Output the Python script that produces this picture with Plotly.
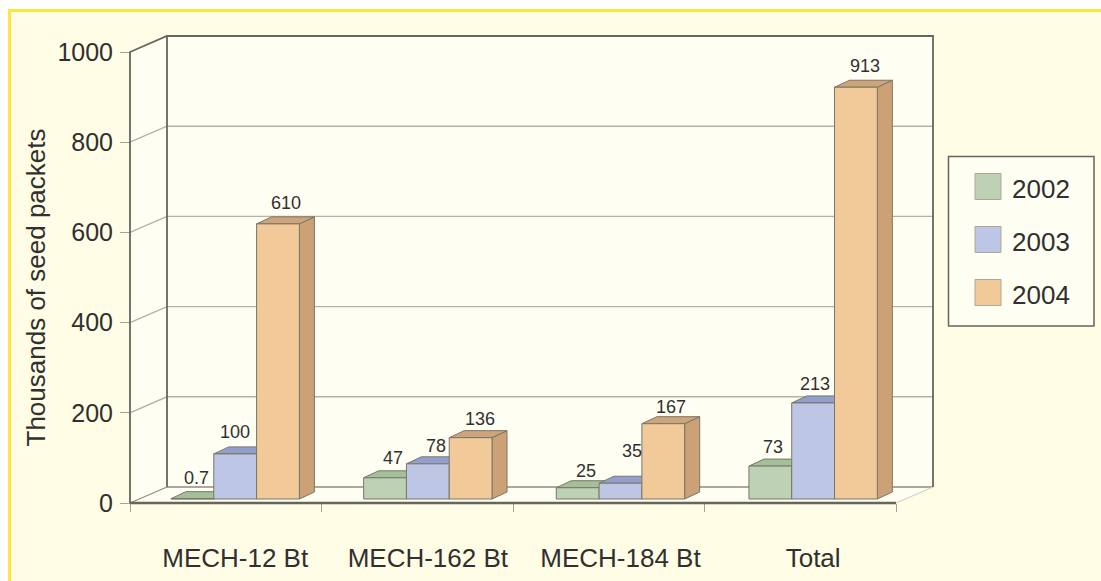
import plotly.graph_objects as go

# ---- data ----
categories = ["MECH-12 Bt", "MECH-162 Bt", "MECH-184 Bt", "Total"]
series_names = ["2002", "2003", "2004"]
values_2002 = [0.7, 47, 25, 73]
values_2003 = [100, 78, 35, 213]
values_2004 = [610, 136, 167, 913]
y_ticks = [0, 200, 400, 600, 800, 1000]
y_title = "Thousands of seed packets"

# ---- styling / layout constants ----
W, H = 1101, 581
X0_PX, PX_PER_X = 130.0, 191.5     # front x axis: 0 at 130px, one group per 191.5px
Y0_PX, PX_PER_Y = 503.0, 0.451     # front y axis: 0 at 503px
def X(p): return (p - X0_PX) / PX_PER_X
def Y(p): return (Y0_PX - p) / PX_PER_Y

WALL_DX, WALL_DY = X(167), Y(487)  # depth of the box
BAR_DX, BAR_DY = 15 / PX_PER_X, 7 / PX_PER_Y   # depth of a bar
BAR_BASE = 4 / PX_PER_Y            # bars stand slightly inside the floor
GROUP_START, GROUP_STEP, BAR_W = 0.214, 1.006, 0.2235
FONT = "Liberation Sans, Arial, sans-serif"
FRONT = ["#BDD2B5", "#BEC6E5", "#F2C998"]
TOPS = ["#A3C098", "#929FCE", "#CFA478"]
SIDES = ["#A3C098", "#929FCE", "#CDA176"]
EDGE = "#77776A"
DARK = "#66665A"
GRID = "#B5B2A2"
TEXT = "#303030"
BG = "#FFFDE6"
WALL = "#FFFEF3"
# label offsets in pixels from the front top centre of each bar
LABEL_DX = [[4, 8, 8, 3], [0, 8, 12, 2], [8, 9, 8, 9]]
LABEL_DY = [[21, 20, 17, 19], [22, 18, 32, 19], [21, 19, 17, 21]]

series = [values_2002, values_2003, values_2004]
fig = go.Figure()

def line_trace(xs, ys, color, width, z):
    fig.add_trace(go.Scatter(x=xs, y=ys, mode="lines", line=dict(color=color, width=width),
                             hoverinfo="skip", showlegend=False, zorder=z))

x_end = len(categories)
y_top = y_ticks[-1]

# box interior
fig.add_trace(go.Scatter(
    x=[0, WALL_DX, x_end + WALL_DX, x_end + WALL_DX, x_end, 0, 0],
    y=[y_top, y_top + WALL_DY, y_top + WALL_DY, WALL_DY, 0, 0, y_top],
    mode="lines", fill="toself", fillcolor=WALL, line=dict(width=0),
    hoverinfo="skip", showlegend=False, zorder=0))

# gridlines along side and back wall
gx, gy = [], []
for t in y_ticks[1:-1]:
    gx += [0, WALL_DX, x_end + WALL_DX, None]
    gy += [t, t + WALL_DY, t + WALL_DY, None]
line_trace(gx, gy, GRID, 1.4, 1)
# floor
line_trace([WALL_DX, x_end + WALL_DX], [WALL_DY, WALL_DY], "#8E8C7E", 1.6, 1)
line_trace([x_end, x_end + WALL_DX], [0, WALL_DY], "#D4D2C6", 1.2, 1)
line_trace([0, WALL_DX], [0, WALL_DY], "#8E8C7E", 1.2, 1)
# frame
line_trace([0, 0, WALL_DX, x_end + WALL_DX, x_end + WALL_DX],
           [0, y_top, y_top + WALL_DY, y_top + WALL_DY, WALL_DY], DARK, 1.8, 1)
line_trace([WALL_DX, WALL_DX], [WALL_DY, y_top + WALL_DY], DARK, 1.8, 1)
line_trace([0, x_end], [0, 0], DARK, 2.6, 1)

# bars: side and top faces, then fronts on top of them
for k, vals in enumerate(series):
    lefts = [GROUP_START + GROUP_STEP * i + BAR_W * k for i in range(len(vals))]
    sx, sy, tx, ty = [], [], [], []
    for l, v in zip(lefts, vals):
        r = l + BAR_W
        top = BAR_BASE + v
        sx += [r, r + BAR_DX, r + BAR_DX, r, r, None]
        sy += [BAR_BASE, BAR_BASE + BAR_DY, top + BAR_DY, top, BAR_BASE, None]
        tx += [l, l + BAR_DX, r + BAR_DX, r, l, None]
        ty += [top, top + BAR_DY, top + BAR_DY, top, top, None]
    for fx, fy, col in ((sx, sy, SIDES[k]), (tx, ty, TOPS[k])):
        fig.add_trace(go.Scatter(x=fx, y=fy, mode="lines", fill="toself", fillcolor=col,
                                 line=dict(color=EDGE, width=1), hoverinfo="skip",
                                 showlegend=False, zorder=2))
    fig.add_trace(go.Bar(x=[l + BAR_W / 2 for l in lefts], y=vals, base=BAR_BASE, width=BAR_W,
                         name=series_names[k], marker=dict(color=FRONT[k], line=dict(color=EDGE, width=1)),
                         showlegend=False, zorder=3))
    for i, (l, v) in enumerate(zip(lefts, vals)):
        fig.add_annotation(x=l + BAR_W / 2, y=BAR_BASE + v, text=str(v), showarrow=False,
                           xshift=LABEL_DX[k][i], yshift=LABEL_DY[k][i],
                           font=dict(family=FONT, size=18, color=TEXT))

# legend key
for k, name in enumerate(series_names):
    fig.add_trace(go.Scatter(x=[X(988)], y=[Y(186.5 + 53 * k)], mode="markers",
                             marker=dict(symbol="square", size=26, color=FRONT[k],
                                         line=dict(color="#A9A996", width=1)),
                             name=name, hoverinfo="skip", showlegend=False, zorder=4))
    fig.add_annotation(x=X(1010), y=Y(188.5 + 53 * k), text=name, showarrow=False, xanchor="left",
                       font=dict(family=FONT, size=26, color=TEXT))

fig.update_layout(
    width=W, height=H, margin=dict(l=0, r=0, t=0, b=0), autosize=False,
    paper_bgcolor="white", plot_bgcolor="rgba(0,0,0,0)", barmode="overlay", showlegend=False,
    font=dict(family=FONT, color=TEXT),
    xaxis=dict(domain=[0, 1], range=[X(0), X(W)], anchor="free", position=(H - Y0_PX) / H,
               showgrid=False, zeroline=False, showline=False,
               tickmode="array", tickvals=[GROUP_START + GROUP_STEP * i + 1.5 * BAR_W for i in range(len(categories))],
               ticktext=categories, ticks="outside", ticklen=32, tickcolor="rgba(0,0,0,0)",
               tickfont=dict(family=FONT, size=26, color=TEXT),
               minor=dict(tickmode="array", tickvals=list(range(len(categories) + 1)),
                          ticks="outside", ticklen=8, tickcolor="#A5A394", tickwidth=1.4, showgrid=False)),
    yaxis=dict(domain=[6 / H, 1], range=[Y(H - 6), Y(0)], anchor="free", position=X0_PX / W,
               showgrid=False, zeroline=False, showline=False,
               tickmode="array", tickvals=y_ticks, ticks="outside", ticklen=10,
               tickcolor="#A5A394", tickwidth=1.4, ticklabelstandoff=2,
               tickfont=dict(family=FONT, size=25, color=TEXT),
               title=dict(text=y_title, font=dict(family=FONT, size=26, color=TEXT), standoff=3)),
    shapes=[
        dict(type="rect", xref="paper", yref="paper", layer="below",
             x0=9.5 / W, x1=1.02, y0=-0.02, y1=(H - 10.5) / H,
             fillcolor=BG, line=dict(color="#FFE63C", width=3)),
        dict(type="rect", xref="paper", yref="paper", layer="below",
             x0=948.5 / W, x1=1094 / W, y0=(H - 326) / H, y1=(H - 156.5) / H,
             fillcolor=WALL, line=dict(color=DARK, width=1.5)),
    ],
)

fig.write_html("out.html", config={"displayModeBar": False},
               post_script="document.body.style.margin='0';")
